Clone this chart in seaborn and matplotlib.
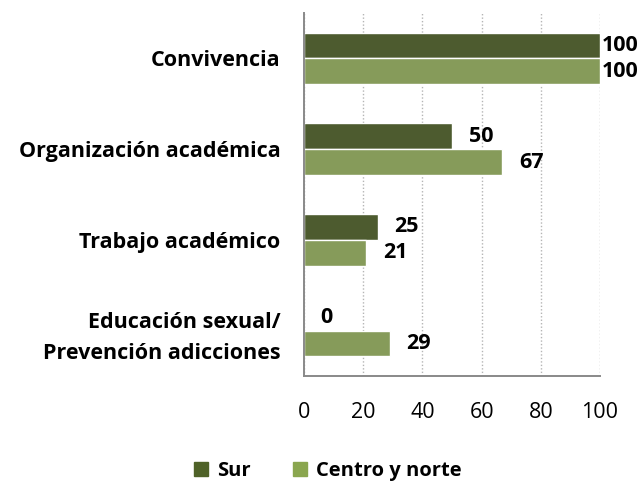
import matplotlib
matplotlib.use("Agg")
from matplotlib import pyplot as plt
import seaborn as sns
import pandas as pd

categorias = ["Convivencia", "Organización académica", "Trabajo académico",
              "Educación sexual/\nPrevención adicciones"]
sur = [100, 50, 25, 0]
centro_norte = [100, 67, 21, 29]
series = ["Sur", "Centro y norte"]
colores = ["#4F6228", "#8AA64F"]

df = pd.DataFrame({
    "categoria": categorias * 2,
    "valor": sur + centro_norte,
    "serie": [series[0]] * len(categorias) + [series[1]] * len(categorias),
})

sns.set_style("white")
plt.rcParams["font.family"] = ["Open Sans", "DejaVu Sans"]
plt.rcParams["text.color"] = "black"
plt.rcParams["xtick.labelcolor"] = "black"
plt.rcParams["ytick.labelcolor"] = "black"

fig = plt.figure(figsize=(6.43, 4.88), dpi=100)
ax = fig.add_axes([304 / 643, 1 - 376 / 488, 296 / 643, 363 / 488])

sns.barplot(data=df, y="categoria", x="valor", hue="serie", orient="h",
            palette=colores, width=0.57, ax=ax, legend=False)

ax.set_xlim(0, 100)
ax.set_ylim(3.5, -0.5)
ax.set_xticks([0, 20, 40, 60, 80, 100])
ax.tick_params(axis="x", labelsize=15.5, length=6, width=1.2, color="#898989", direction="out", pad=13)
ax.set_yticks(range(len(categorias)))
ax.set_yticklabels(categorias, fontsize=15.5, fontweight="bold", linespacing=1.6)
ax.tick_params(axis="y", length=0, pad=17)
# ticks between categories on the left spine
ax.set_yticks([-0.5, 0.5, 1.5, 2.5, 3.5], minor=True)
ax.tick_params(axis="y", which="minor", length=6, width=1.2, color="#898989", direction="out")
ax.grid(axis="x", linestyle=(0, (1, 1.5)), color="#B5B5B5", linewidth=1)
ax.set_axisbelow(True)
ax.set_xlabel("")
ax.set_ylabel("")
for s in ["top", "right"]:
    ax.spines[s].set_visible(False)
for s in ["left", "bottom"]:
    ax.spines[s].set_color("#898989")
    ax.spines[s].set_linewidth(1.4)

for cont in ax.containers:
    for bar in cont:
        v = bar.get_width()
        off = 1.5 if v >= 100 else 12
        ax.annotate(f"{v:.0f}", (v, bar.get_y() + bar.get_height() / 2),
                    xytext=(off, 0), textcoords="offset points",
                    ha="left", va="center", fontsize=15.5, fontweight="bold",
                    annotation_clip=False)

handles = [plt.Rectangle((0, 0), 1, 1, color=c) for c in colores]
fig.legend(handles, series, loc="center", bbox_to_anchor=(328 / 643, 1 - 471 / 488),
           ncol=2, frameon=False, prop={"size": 14.5, "weight": "bold"},
           handlelength=0.7, handleheight=0.7, handletextpad=0.45, columnspacing=2.1)

fig.savefig("out.png", dpi=100)
